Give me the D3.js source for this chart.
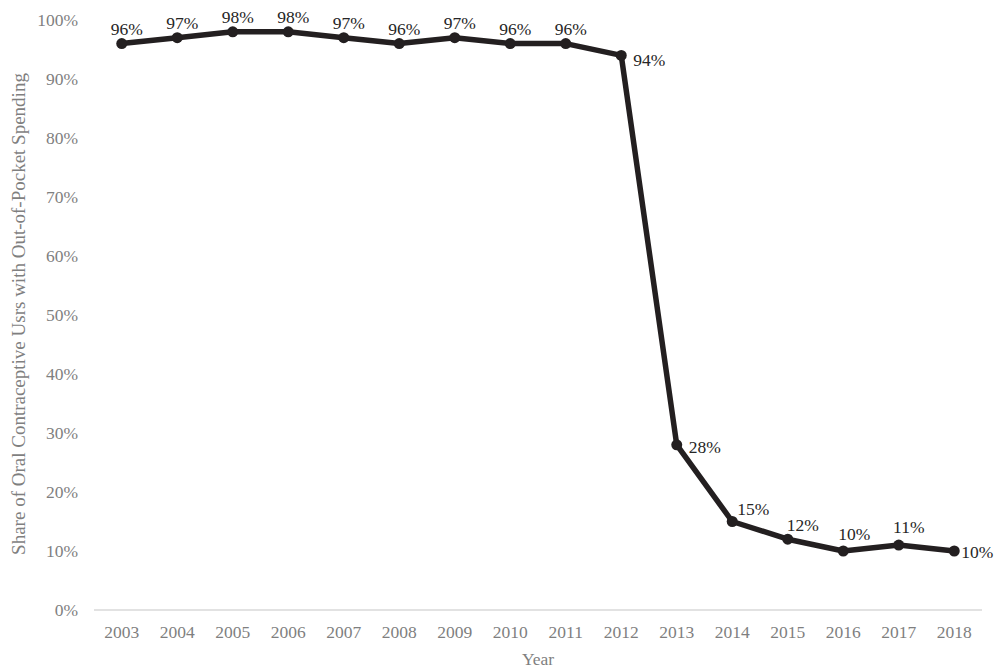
<!DOCTYPE html>
<html><head><meta charset="utf-8">
<script src="https://cdn.jsdelivr.net/npm/d3@7"></script>
<style>body{margin:0;background:#fff}svg{display:block}</style>
</head><body>
<svg id="c" width="996" height="671"></svg>
<script>
const years = ["2003","2004","2005","2006","2007","2008","2009","2010","2011","2012","2013","2014","2015","2016","2017","2018"];
const shares = [96,97,98,98,97,96,97,96,96,94,28,15,12,10,11,10];
const yTicks = [0,10,20,30,40,50,60,70,80,90,100];

// label placement (styling, not data)
const labelStyle = {
  "2012":{anchor:"start",dx:12,dy:4},
  "2013":{anchor:"start",dx:12,dy:2},
  "2014":{anchor:"middle",dx:21,dy:-7},
  "2015":{anchor:"middle",dx:15,dy:-8},
  "2016":{anchor:"middle",dx:11,dy:-11},
  "2017":{anchor:"middle",dx:10,dy:-12},
  "2018":{anchor:"start",dx:7,dy:1}
};
const defaultLabel = {anchor:"middle",dx:5,dy:-9};

const svg = d3.select("#c");
const font = "'Liberation Serif','Times New Roman',serif";
const x = d3.scaleBand().domain(years).range([94, 982]);
const y = d3.scaleLinear().domain([0,100]).range([610, 20]);

svg.append("line").attr("x1",94).attr("x2",982).attr("y1",y(0)).attr("y2",y(0))
  .attr("stroke","#d9d9d9").attr("stroke-width",1.5);

svg.selectAll(".yt").data(yTicks).join("text")
  .attr("x",78).attr("y",d=>y(d)).attr("dy","0.35em").attr("text-anchor","end")
  .attr("font-family",font).attr("font-size",17.5).attr("fill","#7f7f7f")
  .text(d=>d+"%");

svg.selectAll(".xt").data(years).join("text")
  .attr("x",d=>x(d)+x.bandwidth()/2).attr("y",y(0)+28).attr("text-anchor","middle")
  .attr("font-family",font).attr("font-size",17.5).attr("fill","#7f7f7f")
  .text(d=>d);

const pts = years.map((d,i)=>({year:d,v:shares[i]}));
const cx = d=>x(d.year)+x.bandwidth()/2;
const ls = d=>labelStyle[d.year]||defaultLabel;

svg.append("path").datum(pts)
  .attr("d", d3.line().x(cx).y(d=>y(d.v)))
  .attr("fill","none").attr("stroke","#231f20").attr("stroke-width",5.5).attr("stroke-linejoin","round");

svg.selectAll(".pt").data(pts).join("circle")
  .attr("cx",cx).attr("cy",d=>y(d.v)).attr("r",5.5).attr("fill","#231f20");

svg.selectAll(".lb").data(pts).join("text")
  .attr("x",d=>cx(d)+ls(d).dx)
  .attr("y",d=>y(d.v)+ls(d).dy)
  .attr("dy",d=>ls(d).anchor==="start"?"0.35em":"0")
  .attr("text-anchor",d=>ls(d).anchor)
  .attr("font-family",font).attr("font-size",17.5).attr("fill","#262626")
  .text(d=>d.v+"%");

svg.append("text").attr("transform","translate(25,314) rotate(-90)")
  .attr("text-anchor","middle").attr("font-family",font).attr("font-size",19).attr("fill","#7f7f7f")
  .text("Share of Oral Contraceptive Usrs with Out-of-Pocket Spending");
svg.append("text").attr("x",(94+982)/2).attr("y",665).attr("text-anchor","middle")
  .attr("font-family",font).attr("font-size",17.5).attr("fill","#7f7f7f").text("Year");
</script>
</body></html>
